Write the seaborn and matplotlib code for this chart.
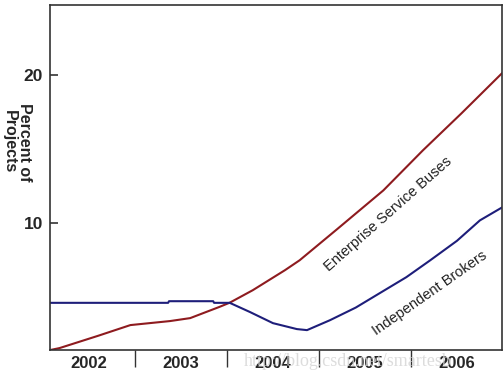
import numpy as np
import pandas as pd
import matplotlib
matplotlib.use("Agg")
import matplotlib.pyplot as plt
import seaborn as sns

years = ["2002", "2003", "2004", "2005", "2006"]

# readings (x in years, label centred on the year)
esb_t = [2001.58, 2001.68, 2002.10, 2002.45, 2002.88, 2003.10, 2003.42, 2003.53,
         2003.78, 2004.13, 2004.29, 2004.70, 2005.20, 2005.63, 2006.05, 2006.49]
esb_v = [1.44, 1.57, 2.40, 3.12, 3.39, 3.59, 4.35, 4.63,
         5.47, 6.82, 7.49, 9.60, 12.20, 14.90, 17.40, 20.10]

ib_t = [2001.58, 2002.86, 2002.87, 2003.35, 2003.36, 2003.53, 2003.75, 2004.00,
        2004.26, 2004.37, 2004.62, 2004.90, 2005.16, 2005.45, 2005.71, 2006.00,
        2006.25, 2006.49]
ib_v = [4.62, 4.62, 4.73, 4.73, 4.62, 4.62, 4.00, 3.25,
        2.85, 2.78, 3.45, 4.30, 5.27, 6.35, 7.49, 8.80,
        10.18, 11.05]

df = pd.concat([
    pd.DataFrame({"year": esb_t, "pct": esb_v, "series": "Enterprise Service Buses"}),
    pd.DataFrame({"year": ib_t, "pct": ib_v, "series": "Independent Brokers"}),
])

sns.set_style("white")
plt.rcParams["font.family"] = ["Liberation Sans", "DejaVu Sans"]

fig = plt.figure(figsize=(5.03, 3.76), dpi=100)
ax = fig.add_axes([50 / 503, 26 / 376, 452 / 503, 345 / 376])

sns.lineplot(data=df, x="year", y="pct", hue="series", sort=False,
             palette={"Enterprise Service Buses": "#8e1b1f",
                      "Independent Brokers": "#1e1e7a"},
             linewidth=1.5, legend=False, ax=ax)

ax.set_xlim(2001.576, 2006.49)
ax.set_ylim(1.44, 24.7)

ax.set_yticks([10, 20])
ax.set_yticklabels(["10", "20"], fontsize=12.5, fontweight="bold")
ax.tick_params(axis="y", left=True, direction="in", length=6, width=1.2,
               color="#333333", pad=5)

ax.set_xticks([2002.5, 2003.5, 2004.5, 2005.5])
ax.set_xticklabels([])
ax.set_xticks([2002, 2003, 2004, 2005, 2006], minor=True)
ax.set_xticklabels(years, minor=True, fontsize=12, fontweight="bold")
ax.tick_params(axis="x", which="major", bottom=True, direction="out", length=12,
               width=1, color="#333333")
ax.tick_params(axis="x", which="minor", bottom=True, length=0, pad=4)

for s in ax.spines.values():
    s.set_color("#333333")
    s.set_linewidth(1.2)

ax.set_xlabel("")
ax.set_ylabel("")
fig.text(17 / 503, 1 - 142 / 376, "Percent of\nProjects", rotation=270,
         ha="center", va="center", fontsize=11.5, fontweight="bold",
         linespacing=1.0)

ax.text(2005.25, 10.6, "Enterprise Service Buses", rotation=41.5,
        ha="center", va="center", fontsize=10.5, color="#222222",
        rotation_mode="anchor")
ax.text(2005.71, 5.3, "Independent Brokers", rotation=35,
        ha="center", va="center", fontsize=10.5, color="#222222",
        rotation_mode="anchor")

fig.text(348 / 503, 1 - 361 / 376, "http://blog.csdn.net/smartesb",
         ha="center", va="center", fontsize=13, color="#d4d4d4",
         family=["Liberation Serif", "DejaVu Serif"], alpha=0.8, zorder=0)

fig.savefig("out.png", dpi=100)
